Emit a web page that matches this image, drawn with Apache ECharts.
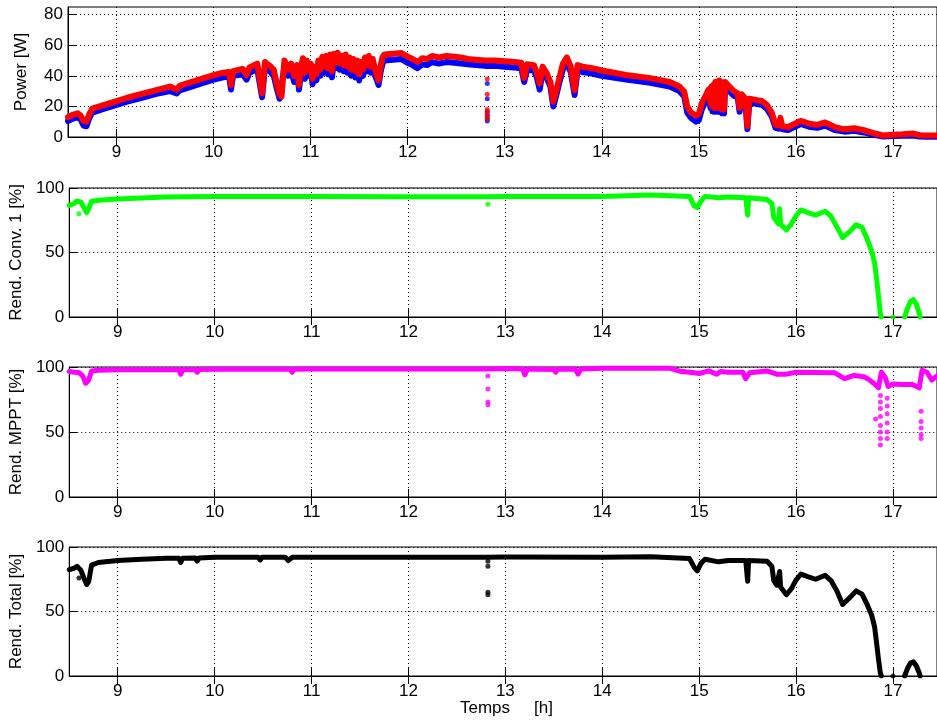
<!DOCTYPE html>
<html><head><meta charset="utf-8">
<script src="https://cdn.jsdelivr.net/npm/echarts@6/dist/echarts.min.js"></script>
<style>html,body{margin:0;padding:0;background:#fff}#c{width:937px;height:722px}</style>
</head><body><div id="c"></div>
<script>
// ---------- tick labels ----------
const xTicks = [9, 10, 11, 12, 13, 14, 15, 16, 17];
const powerTicks = [0, 20, 40, 60, 80];
const pctTicks = [0, 50, 100];

// ---------- Power [W] (time in hours) ----------
const powerT = [8.50,8.55,8.60,8.63,8.66,8.69,8.72,8.75,8.85,9.00,9.10,9.25,9.40,9.55,9.62,9.65,9.75,9.90,10.00,10.10,10.16,10.18,10.20,10.30,10.34,10.37,10.45,10.47,10.50,10.53,10.58,10.62,10.65,10.68,10.70,10.73,10.77,10.80,10.83,
  10.86,10.88,10.90,10.92,10.94,10.96,10.98,11.00,11.02,11.04,11.06,11.08,11.10,11.12,11.14,11.16,11.18,11.20,11.22,11.24,11.26,11.28,11.30,11.32,11.34,11.36,11.38,11.40,11.42,11.44,11.46,11.48,11.50,11.52,11.54,11.56,11.58,11.60,11.62,11.64,11.66,11.68,11.70,11.72,11.74,11.76,
  11.85,11.93,12.00,12.05,12.10,12.15,12.20,12.25,12.32,12.40,12.48,12.55,12.62,12.70,12.80,12.90,13.00,13.10,13.17,13.20,13.23,13.30,13.33,13.36,13.39,13.43,13.47,13.50,13.53,13.56,13.60,13.64,13.68,13.72,13.75,13.80,13.90,14.00,14.25,14.50,14.70,14.80,14.85,14.88,14.92,14.97,15.00,15.03,15.07,
  15.10,15.12,15.13,15.14,15.15,15.16,15.17,15.18,15.19,15.20,15.21,15.22,15.23,15.24,15.25,15.26,15.27,15.28,15.30,15.32,
  15.36,15.40,15.42,15.44,15.48,15.50,15.52,15.60,15.65,15.70,15.75,15.79,15.82,15.84,15.86,15.92,16.00,16.05,16.15,16.22,16.30,16.40,16.50,16.60,16.70,16.80,16.90,17.00,17.10,17.20,17.28,17.35,17.45];
const powerRed = [13.0,14.5,15.5,14.0,10.5,10.0,15.0,18.5,20.5,23.5,25.5,28.0,30.5,33.0,31.0,33.5,35.5,38.5,40.5,42.0,42.5,34.0,43.0,44.5,40.5,45.5,48.0,40.0,28.5,49.0,46.5,44.0,35.0,28.0,26.5,50.0,44.0,48.0,40.0,
  47,34,45,51.5,42,50,44,48,38,46,41,50,44,52.5,46,53,45,54,43,54.5,49,55,48,53,47,54,46,52,44,51,43,50,41,49,44,52,47,53,46,51,45,44,37,46,52,54,
  54.5,55.0,52.5,51.0,49.0,51.5,51.0,53.0,52.0,53.0,52.5,52.0,51.0,50.5,50.0,50.0,49.5,49.0,48.5,38.5,47.5,47.0,42.0,35.0,46.0,42.0,36.0,23.0,30.0,38.0,48.0,52.0,46.0,30.5,47.0,46.0,45.0,43.5,40.5,38.5,36.0,33.0,29.5,20.0,16.0,14.0,15.0,22.0,27.0,
  31,22,33,20,34,19,36,21,35,19,37,20,36,18,34,18,36,35,34,34,
  30.0,28.5,19.0,28.0,25.0,7.0,25.0,24.0,23.5,21.0,16.0,8.0,7.5,12.5,7.0,6.5,9.0,10.5,8.5,8.0,9.5,6.5,5.0,5.7,4.5,2.5,1.0,1.5,1.8,2.3,1.2,1.0,1.0];
const powerBlue = [10.5,12.0,13.0,11.5,7.5,7.0,12.5,16.0,18.0,21.0,23.0,25.5,28.0,30.0,28.5,30.5,32.5,35.5,37.5,39.0,39.5,31.0,40.0,41.0,37.5,42.0,44.5,37.0,26.0,45.5,43.0,40.0,32.0,25.0,24.0,46.0,40.0,44.0,36.0,
  43,31,41,47.5,38,46,40,44,34.5,42,37,46,40,48.5,42,49,41,50,39,50.5,45,51,44,49,43,50,42,48,40,47,39,46,37,45,40,48,43,49,42,47,41,40,34,42,48,50,
  50.5,51.0,48.5,47.0,45.0,47.5,47.0,49.0,48.0,49.0,48.5,48.0,47.5,47.0,46.5,46.5,46.0,45.5,45.0,36.0,44.0,43.5,39.0,31.0,42.5,39.0,33.0,20.0,27.0,35.0,44.5,48.0,42.5,27.5,43.5,42.5,41.5,40.0,37.5,35.5,33.0,30.0,26.5,16.0,12.5,10.0,11.0,18.0,23.5,
  27.5,19,30,17,31,16.5,33,18,32,16.5,34,17,33,15.5,31,15.5,33,32,31,31,
  27.0,26.0,16.5,25.5,22.5,5.0,22.5,21.5,21.0,18.5,13.5,6.0,5.5,10.0,5.0,4.5,7.0,8.5,6.5,6.0,7.5,4.5,3.5,4.0,3.0,1.5,0.3,0.6,0.8,1.0,0.3,0.2,0.2];
// isolated outlier samples
const powerOutT = [12.82,12.82,12.82,12.82,12.82,12.82];
const powerOutRed = [38.0,28.0,18.0,16.0,14.0,12.0];
const powerOutBlue = [35.0,25.0,16.5,14.0,12.0,10.5];

// ---------- Rend. Conv. 1 [%] ----------
const conv1T = [8.50,8.55,8.58,8.62,8.65,8.68,8.70,8.73,8.80,9.00,9.25,9.50,10.00,11.00,12.00,12.80,13.00,14.00,14.50,14.90,14.95,14.98,15.02,15.06,15.20,15.30,15.48,15.50,15.51,15.70,15.75,15.77,15.80,15.82,15.83,15.84,15.90,15.95,16.00,16.05,16.12,16.20,16.30,16.36,16.42,16.48,16.55,16.62,16.68,16.73,16.78,16.81,16.83,16.85,16.87,16.88,16.89,17.12,17.15,17.18,17.21,17.24,17.27,17.28];
const conv1 = [86.5,88.0,90.0,89.0,85.0,81.0,84.0,89.5,90.5,91.5,92.3,93.0,93.5,93.5,93.3,93.3,93.5,93.5,94.5,93.5,86.0,85.0,90.0,93.5,92.5,93.0,92.5,79.0,92.5,91.0,88.0,77.0,74.0,72.0,84.0,72.0,67.5,72.0,78.5,83.0,81.0,79.0,82.0,78.0,70.0,61.5,66.0,71.5,69.5,61.0,51.0,42.0,30.0,16.0,2.0,0.0,null,0.0,7.0,12.0,13.5,10.0,3.0,0.0];
const conv1OutT = [8.60,12.82,17.00];
const conv1Out = [80.0,87.5,0.0];

// ---------- Rend. MPPT [%] ----------
const mpptT = [8.50,8.55,8.60,8.64,8.67,8.70,8.73,8.80,9.00,9.63,9.65,9.67,9.80,9.82,9.84,10.00,10.48,10.50,10.52,10.78,10.80,10.82,11.00,12.80,13.00,13.18,13.20,13.23,13.50,13.52,13.54,13.72,13.75,13.78,14.00,14.70,14.80,14.95,15.00,15.10,15.18,15.22,15.30,15.45,15.48,15.50,15.52,15.70,15.80,15.90,16.00,16.40,16.50,16.60,16.70,16.75,16.80,16.85,16.88,16.90,16.92,16.95,17.00,17.10,17.20,17.27,17.30,17.35,17.40,17.45];
const mppt = [96.5,96.0,95.8,93.0,87.5,90.0,97.0,97.5,97.8,97.8,94.5,97.8,97.8,96.0,98.0,98.3,98.3,97.0,98.3,98.3,96.0,98.3,98.5,98.5,98.8,98.5,94.0,98.5,98.0,96.0,98.3,98.5,94.5,98.5,99.0,99.0,96.8,95.5,95.0,97.0,94.5,96.5,96.0,96.0,91.0,90.0,95.5,97.0,94.5,94.5,96.0,95.5,91.0,93.5,92.5,90.5,87.5,84.0,96.0,97.5,92.0,85.0,87.0,86.5,86.5,84.0,97.5,96.0,90.0,93.0];
const mpptOutT = [12.82,12.82,12.82,12.82,16.82,16.87,16.87,16.87,16.87,16.87,16.87,16.87,16.87,16.94,16.94,16.94,16.94,16.94,16.94,17.29,17.29,17.29,17.29,17.29];
const mpptOut = [93.0,83.0,73.0,71.0,60.0,78.0,73.0,68.0,62.0,55.0,50.0,45.0,40.0,76.0,70.0,64.0,57.0,50.0,45.0,66.0,58.0,53.0,48.0,45.0];

// ---------- Rend. Total [%] ----------
const totalT = [8.50,8.55,8.58,8.62,8.65,8.68,8.70,8.73,8.80,9.00,9.25,9.50,9.63,9.65,9.67,9.80,9.82,9.84,10.00,10.45,10.47,10.49,10.73,10.76,10.80,11.00,12.00,12.80,13.00,14.00,14.50,14.90,14.95,14.98,15.02,15.06,15.20,15.30,15.48,15.50,15.51,15.70,15.75,15.77,15.80,15.82,15.83,15.84,15.90,15.95,16.00,16.05,16.12,16.20,16.30,16.36,16.42,16.48,16.55,16.62,16.68,16.73,16.78,16.81,16.83,16.85,16.87,16.88,16.89,17.12,17.15,17.18,17.21,17.24,17.27,17.28];
const total = [82.5,83.5,85.0,82.0,76.0,71.0,73.0,86.0,88.0,89.5,90.5,91.2,91.3,88.0,91.3,91.5,89.0,91.5,92.0,92.0,90.0,92.0,92.0,89.5,92.0,92.0,92.0,92.0,92.2,92.0,92.5,91.0,84.0,81.5,87.5,90.5,88.5,89.5,89.5,73.5,89.5,89.0,85.0,74.0,70.5,69.0,81.0,69.0,63.0,67.5,74.5,79.0,77.0,75.0,78.0,74.0,66.0,55.5,60.5,66.0,63.5,56.0,47.0,38.0,26.0,13.0,2.0,0.0,null,0.0,6.0,10.0,11.0,8.0,2.5,0.0];
const totalOutT = [8.60,12.82,12.82,12.82,12.82,17.00];
const totalOut = [76.0,89.0,85.0,65.0,63.0,0.0];

// ---------- build ----------
const pairs = (t, v) => t.map((x, i) => [x, v[i]]);
const FONT = 'Liberation Sans, Arial, sans-serif';
const XMIN = 8.5, XMAX = 17.4538;
const tops = [7, 188, 367, 547];
const heights = [130, 129, 130, 129];
const names = ['Power [W]', 'Rend. Conv. 1 [%]', 'Rend. MPPT [%]', 'Rend. Total [%]'];

const grid = tops.map((t, i) => ({
  left: 68, top: t, width: 873, height: heights[i],
  show: true, borderColor: '#000', borderWidth: 1, backgroundColor: 'transparent'
}));
const gridLine = { show: true, lineStyle: { color: '#000', width: 1, type: [1, 3] } };
const xAxis = [];
const yAxis = [];
for (let i = 0; i < 4; i++) {
  xAxis.push({
    type: 'value', gridIndex: i, min: XMIN, max: XMAX, position: 'bottom',
    axisLine: { show: true, onZero: false, lineStyle: { color: '#000', width: 1 } },
    axisTick: { show: true, inside: true, length: 8, customValues: xTicks, lineStyle: { color: '#000' } },
    axisLabel: { show: true, customValues: xTicks, color: '#000', fontFamily: FONT, fontSize: 17, margin: 7 },
    splitLine: gridLine
  });
  xAxis.push({
    type: 'value', gridIndex: i, min: XMIN, max: XMAX, position: 'top',
    axisLine: { show: false },
    axisTick: { show: true, inside: true, length: 8, customValues: xTicks, lineStyle: { color: '#000' } },
    axisLabel: { show: false }, splitLine: { show: false }
  });
  const yt = i === 0 ? powerTicks : pctTicks;
  yAxis.push({
    type: 'value', gridIndex: i, min: 0, max: i === 0 ? 85 : 100,
    name: names[i], nameLocation: 'middle', nameGap: 38,
    nameTextStyle: { color: '#000', fontFamily: FONT, fontSize: 17 },
    axisLine: { show: true, lineStyle: { color: '#000', width: 1 } },
    axisTick: { show: true, inside: true, length: 8, customValues: yt, lineStyle: { color: '#000' } },
    axisLabel: { show: true, customValues: yt, color: '#000', fontFamily: FONT, fontSize: 17, margin: 5 },
    splitLine: gridLine
  });
}

function band(data, color, w, g) {
  return { type: 'line', xAxisIndex: g * 2, yAxisIndex: g, data: data, showSymbol: false, symbol: 'none',
    connectNulls: false, animation: false, silent: true,
    lineStyle: { color: color, width: w, cap: 'round', join: 'round' } };
}
function dots(data, color, g) {
  return { type: 'scatter', xAxisIndex: g * 2, yAxisIndex: g, data: data, symbol: 'circle', symbolSize: 5,
    animation: false, silent: true, itemStyle: { color: color } };
}

const series = [
  band(pairs(powerT, powerBlue), '#0000ff', 6, 0),
  band(pairs(powerT, powerRed), '#ff0000', 6, 0),
  dots(pairs(powerOutT, powerOutBlue), '#0000ff', 0),
  dots(pairs(powerOutT, powerOutRed), '#ff0000', 0),
  band(pairs(conv1T, conv1), '#00ff00', 5, 1),
  dots(pairs(conv1OutT, conv1Out), '#00ff00', 1),
  band(pairs(mpptT, mppt), '#ff00ff', 5, 2),
  dots(pairs(mpptOutT, mpptOut), '#ff00ff', 2),
  band(pairs(totalT, total), '#000000', 5, 3),
  dots(pairs(totalOutT, totalOut), '#000000', 3)
];

const chart = echarts.init(document.getElementById('c'), null, { renderer: 'canvas' });
chart.setOption({
  animation: false,
  backgroundColor: '#fff',
  grid: grid, xAxis: xAxis, yAxis: yAxis, series: series,
  graphic: [
    { type: 'text', left: 460, top: 700, style: { text: 'Temps', fill: '#000', font: '17px ' + FONT } },
    { type: 'text', left: 534, top: 700, style: { text: '[h]', fill: '#000', font: '17px ' + FONT } }
  ]
});
</script></body></html>
